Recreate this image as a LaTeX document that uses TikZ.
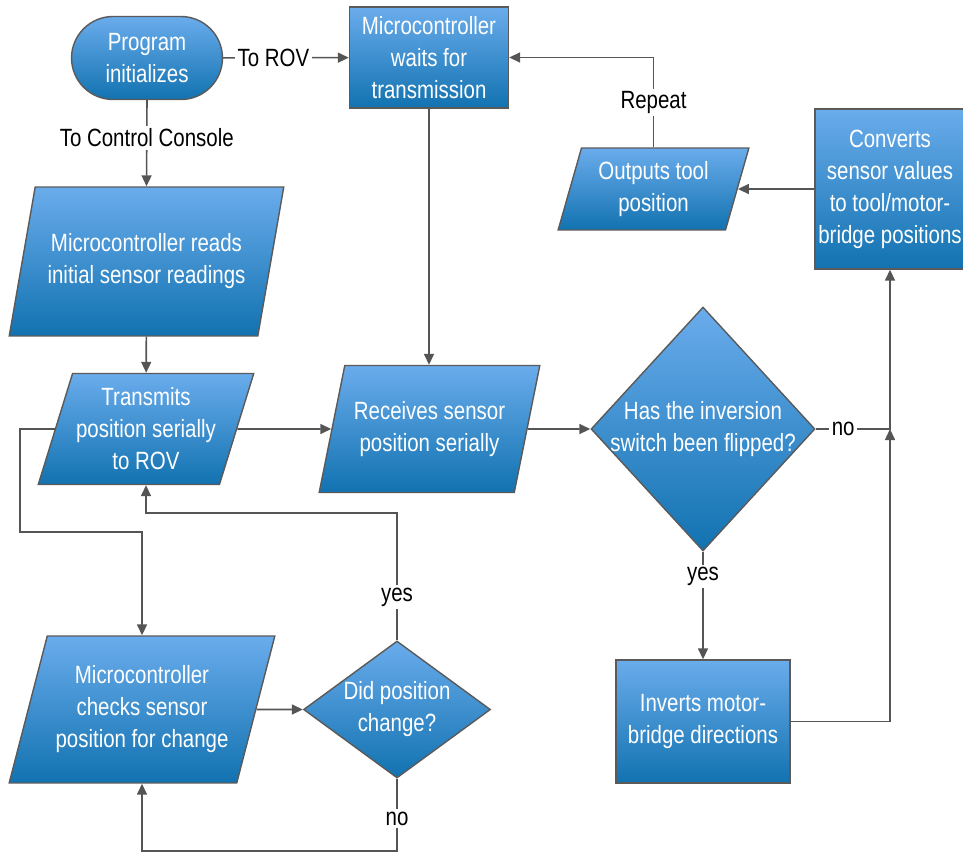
\documentclass[tikz,border=0pt]{standalone}
\usepackage{fontspec}
\setmainfont{Liberation Sans}[FakeStretch=0.82]
\usetikzlibrary{arrows.meta,shapes.geometric,shapes.misc}

\begin{document}
\begin{tikzpicture}[x=0.02cm, y=-0.02cm,
    font=\fontsize{14.2}{18.2}\selectfont,
    box/.style={draw=boxline, line width=0.8pt, top color=flowtop, bottom color=flowbot,
        text=white, align=center, inner sep=2pt},
    proc/.style={box, rectangle},
    term/.style={box, rounded rectangle},
    io/.style={box, trapezium, trapezium left angle=69, trapezium right angle=111,
        trapezium stretches=true},
    decision/.style={box, diamond, inner sep=-5pt},
    flow/.style={draw=lineclr, line width=0.9pt, -{Triangle[length=0.22cm, width=0.2cm]}},
    lab/.style={fill=white, text=black, inner sep=1.5pt}]
    % Define colors
    \definecolor{flowtop}{RGB}{106,172,236}
    \definecolor{flowbot}{RGB}{18,114,176}
    \definecolor{boxline}{RGB}{90,90,90}
    \definecolor{lineclr}{RGB}{85,85,85}

    \useasboundingbox (0,0) rectangle (963,852);
    \clip (0,0) rectangle (963,852);

    % Top row
    \node[term, minimum width=3.16cm, minimum height=1.66cm] (prog) at (147,58) {Program\\initializes};
    \node[proc, minimum width=3.18cm, minimum height=2.02cm] (wait) at (429,57.5) {Microcontroller\\waits for\\transmission};
    \node[io, trapezium left angle=73, trapezium right angle=107, minimum width=3.82cm, minimum height=1.64cm] (outp) at (653.5,189) {Outputs tool\\position};
    \node[proc, minimum width=3.0cm, minimum height=3.2cm] (conv) at (890,189) {Converts\\sensor values\\to tool/motor-\\bridge positions};

    % Middle row
    \node[io, minimum width=5.5cm, minimum height=2.98cm] (reads) at (146.5,261.5) {Microcontroller reads\\initial sensor readings};
    \node[io, minimum width=4.0cm, minimum height=2.22cm] (trans) at (146,429) {Transmits\\position serially\\to ROV};
    \node[io, minimum width=4.42cm, minimum height=2.54cm] (recv) at (429.5,429) {Receives sensor\\position serially};
    \node[decision, minimum width=4.48cm, minimum height=4.88cm] (flip) at (703,429) {Has the inversion\\switch been flipped?};

    % Bottom row
    \node[io, minimum width=5.32cm, minimum height=2.94cm] (chk) at (142,709.5) {Microcontroller\\checks sensor\\position for change};
    \node[decision, minimum width=3.74cm, minimum height=2.74cm] (did) at (397,709.5) {Did position\\change?};
    \node[proc, minimum width=3.48cm, minimum height=2.46cm] (inv) at (703,721.5) {Inverts motor-\\bridge directions};

    % Turning points
    \coordinate (lft) at (20,532);
    \coordinate (yesturn) at (397,513);
    \coordinate (noturn) at (397,851);
    \coordinate (join) at (flip.east -| conv.south);

    % Connectors
    \draw[flow] (prog) -- node[lab, pos=0.4] {To ROV} (wait);
    \draw[flow] (prog.south) -- node[lab, pos=0.44] {To Control Console} (reads.north);
    \draw[flow] (wait.south) -- (wait.south |- recv.north);
    \draw[flow] (reads) -- (trans);
    \draw[flow] (trans) -- (recv);
    \draw[flow] (trans.west) -| (lft) -| (chk.north);
    \draw[flow] (chk) -- (did);
    \draw[flow] (did.north) -- node[lab, pos=0.34] {yes} (yesturn) -| (trans.south);
    \draw[flow] (did.south) -- node[lab, pos=0.55] {no} (noturn) -| (chk.south);
    \draw[flow] (recv) -- (flip);
    \draw[flow] (flip.east) -- node[lab, pos=0.37] {no} (join) -- (conv.south);
    \draw[flow] (flip) -- node[lab, pos=0.23] {yes} (inv);
    \draw[flow] (inv.east) -| (join);
    \draw[flow] (conv) -- (outp);
    \draw[flow] (outp.north) -- node[lab] {Repeat} (outp.north |- wait.east) -- (wait.east);

\end{tikzpicture}
\end{document}
